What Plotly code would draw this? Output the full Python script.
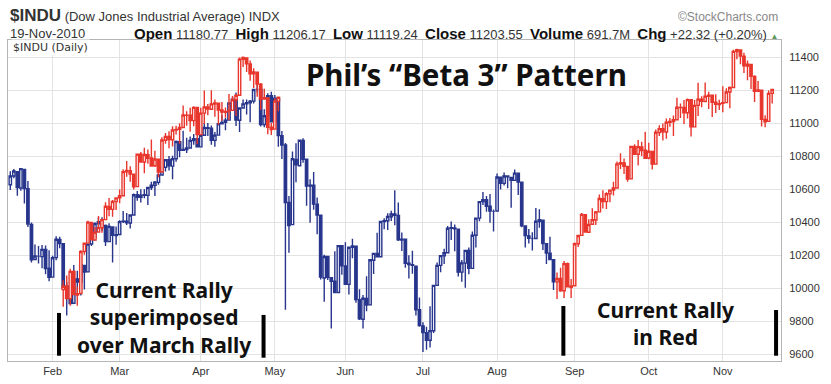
import pandas as pd
import plotly.graph_objects as go

# ---------------- data ----------------
HOLIDAYS = ["2010-01-18", "2010-02-15", "2010-04-02", "2010-05-31",
            "2010-07-05", "2010-09-06"]
DATES = [d.strftime("%Y-%m-%d") for d in
         pd.bdate_range("2010-01-13", "2010-11-19")
         if d.strftime("%Y-%m-%d") not in HOLIDAYS]

OPEN = [
    # Jan
    10627, 10680, 10706, 10608, 10720, 10603, 10387, 10175, 10194, 10192, 10235, 10122,
    # Feb
    10068, 10186, 10296, 10270, 10002, 10013, 9910, 10057, 10036, 10139, 10100, 10269,
    10308, 10391, 10403, 10381, 10283, 10372, 10320,
    # Mar
    10326, 10404, 10406, 10396, 10444, 10567, 10551, 10564, 10563, 10611, 10624, 10642,
    10686, 10733, 10779, 10740, 10785, 10888, 10836, 10841, 10850, 10895, 10907,
    # Apr
    10857, 10927, 10973, 10970, 10896, 10928, 10997, 11005, 11019, 11123, 11144, 11018,
    11092, 11117, 11124, 11134, 11205, 11204, 10992, 11045, 11167,
    # May
    11009, 11150, 10925, 10868, 10520, 10386, 10780, 10742, 10896, 10782, 10620, 10625,
    10510, 10443, 10063, 10193, 10065, 10044, 9975, 10258,
    # Jun
    10136, 10024, 10249, 10255, 9931, 9813, 9939, 9900, 10170, 10212, 10191, 10405,
    10409, 10434, 10450, 10442, 10293, 10297, 10152, 10143, 10134, 9870,
    # Jul
    9773, 9732, 9686, 9743, 10018, 10139, 10197, 10216, 10363, 10366, 10358, 10098,
    10153, 10229, 10121, 10322, 10425, 10525, 10537, 10497, 10466,
    # Aug
    10468, 10673, 10636, 10680, 10671, 10654, 10697, 10643, 10378, 10318, 10302, 10302,
    10405, 10413, 10270, 10213, 10174, 10039, 10060, 9985, 10149, 10007,
    # Sep
    10016, 10270, 10321, 10446, 10340, 10388, 10414, 10463, 10543, 10525, 10572, 10595,
    10608, 10753, 10760, 10738, 10663, 10859, 10812, 10857, 10836,
    # Oct
    10789, 10829, 10752, 10944, 10967, 10947, 11006, 11010, 11021, 11096, 11095, 11063,
    11143, 10978, 11108, 11146, 11132, 11163, 11169, 11127, 11113,
    # Nov
    11121, 11125, 11189, 11216, 11434, 11443, 11406, 11346, 11356, 11283, 11193, 11200,
    11023, 11011, 11181,
]
HIGH = [
    10709, 10723, 10710, 10729, 10720, 10650, 10399, 10265, 10257, 10263, 10260, 10231,
    10198, 10315, 10313, 10270, 10038, 10059, 10142, 10106, 10160, 10140, 10271, 10327,
    10400, 10431, 10430, 10386, 10394, 10372, 10374,
    10412, 10468, 10456, 10447, 10574, 10590, 10600, 10600, 10614, 10646, 10650, 10700,
    10775, 10780, 10802, 10803, 10896, 10889, 10954, 10912, 10920, 10935, 10910,
    10950, 11001, 11001, 10986, 10947, 11000, 11048, 11032, 11123, 11161, 11186, 11094,
    11143, 11144, 11141, 11205, 11258, 11212, 11085, 11182, 11191,
    11171, 11150, 10953, 10880, 10559, 10829, 10878, 10900, 10909, 10782, 10661, 10705,
    10550, 10443, 10204, 10194, 10065, 10224, 10259, 10258,
    10279, 10249, 10301, 10255, 9995, 9960, 10073, 10173, 10214, 10337, 10405, 10424,
    10455, 10470, 10594, 10520, 10338, 10297, 10201, 10228, 10134, 9944,
    9795, 9768, 9891, 10018, 10156, 10199, 10240, 10378, 10405, 10386, 10359, 10172,
    10232, 10247, 10345, 10425, 10525, 10583, 10559, 10572, 10477,
    10696, 10674, 10701, 10680, 10672, 10719, 10698, 10643, 10378, 10359, 10340, 10486,
    10479, 10415, 10272, 10312, 10174, 10096, 10125, 10165, 10157, 10056,
    10277, 10323, 10457, 10446, 10418, 10485, 10469, 10568, 10594, 10582, 10589, 10646,
    10768, 10818, 10786, 10739, 10864, 10873, 10898, 10888, 10948,
    10881, 10829, 10962, 10988, 10999, 11028, 11032, 11047, 11154, 11120, 11140, 11150,
    11143, 11141, 11245, 11164, 11247, 11190, 11169, 11175, 11142,
    11224, 11212, 11222, 11445, 11451, 11443, 11427, 11380, 11356, 11291, 11256, 11201,
    11049, 11198, 11206,
]
LOW = [
    10595, 10666, 10561, 10591, 10514, 10371, 10157, 10175, 10151, 10121, 10085, 10043,
    10068, 10170, 10243, 9998, 9836, 9904, 9910, 9968, 9957, 9993, 10100, 10257,
    10290, 10348, 10348, 10257, 10282, 10157, 10264,
    10326, 10395, 10383, 10363, 10444, 10530, 10520, 10545, 10505, 10596, 10560, 10628,
    10686, 10707, 10713, 10660, 10766, 10794, 10836, 10820, 10850, 10870, 10855,
    10857, 10927, 10922, 10869, 10857, 10928, 10994, 10957, 11019, 11104, 10983, 10947,
    11092, 11053, 11006, 11120, 11186, 10980, 10975, 11044, 11005,
    11009, 10857, 10783, 9870, 10215, 10386, 10642, 10742, 10761, 10500, 10397, 10476,
    10327, 10053, 9919, 10051, 9757, 9974, 9975, 10083,
    10021, 9962, 10182, 9913, 9809, 9757, 9862, 9900, 10087, 10187, 10191, 10358,
    10353, 10408, 10382, 10287, 10226, 10124, 10060, 10088, 9835, 9767,
    9614, 9628, 9642, 9729, 10018, 10098, 10147, 10216, 10293, 10224, 10072, 10040,
    10003, 10086, 10121, 10247, 10406, 10505, 10464, 10397, 10345,
    10468, 10599, 10623, 10606, 10488, 10653, 10565, 10370, 10248, 10272, 10229, 10302,
    10367, 10232, 10147, 10173, 9990, 9936, 9979, 9942, 10009, 9941,
    10016, 10250, 10321, 10339, 10340, 10388, 10383, 10463, 10484, 10480, 10522, 10562,
    10608, 10723, 10692, 10645, 10663, 10810, 10744, 10802, 10788,
    10782, 10720, 10752, 10922, 10896, 10906, 10979, 10922, 11021, 11032, 10996, 11029,
    10920, 10978, 11043, 11096, 11132, 11086, 11037, 11062, 11080,
    11067, 11125, 11090, 11216, 11388, 11357, 11304, 11261, 11207, 11128, 11191, 10980,
    10976, 11011, 11119,
]
CLOSE = [
    10680, 10711, 10610, 10725, 10604, 10389, 10173, 10196, 10194, 10236, 10120, 10067,
    10185, 10297, 10271, 10003, 10013, 9908, 10058, 10038, 10144, 10099, 10268, 10309,
    10392, 10403, 10383, 10283, 10375, 10321, 10325,
    10404, 10406, 10397, 10444, 10567, 10552, 10564, 10567, 10611, 10625, 10643, 10686,
    10734, 10779, 10742, 10785, 10889, 10836, 10841, 10851, 10896, 10907, 10857,
    10927, 10974, 10970, 10897, 10928, 10997, 11005, 11019, 11123, 11145, 11019, 11092,
    11117, 11125, 11134, 11204, 11205, 10992, 11045, 11167, 11009,
    11151, 10926, 10868, 10520, 10380, 10785, 10748, 10897, 10782, 10620, 10625, 10510,
    10444, 10068, 10193, 10067, 10043, 9975, 10259, 10137,
    10025, 10249, 10256, 9932, 9816, 9940, 9899, 10173, 10212, 10191, 10405, 10410,
    10435, 10450, 10443, 10294, 10298, 10152, 10144, 10139, 9870, 9774,
    9732, 9686, 9744, 10018, 10139, 10198, 10216, 10364, 10367, 10360, 10098, 10154,
    10230, 10121, 10322, 10425, 10525, 10537, 10497, 10468, 10466,
    10674, 10636, 10680, 10675, 10654, 10698, 10644, 10379, 10320, 10303, 10302, 10406,
    10415, 10271, 10214, 10174, 10040, 10060, 9985, 10150, 10009, 10015,
    10270, 10320, 10448, 10341, 10387, 10415, 10463, 10544, 10526, 10573, 10595, 10608,
    10754, 10761, 10739, 10662, 10860, 10812, 10858, 10835, 10788,
    10830, 10752, 10945, 10967, 10948, 11006, 11010, 11021, 11097, 11095, 11063, 11143,
    10979, 11108, 11146, 11133, 11164, 11170, 11127, 11114, 11118,
    11125, 11189, 11216, 11435, 11445, 11407, 11347, 11358, 11284, 11193, 11201, 11023,
    11008, 11181, 11204,
]

RALLY_START = "2010-08-25"       # first day of the "current rally" (drawn red)
OVERLAY_SHIFT_DAYS = 140         # rally copied back onto the March rally
OVERLAY_PRICE_OFFSET = -47

MONTH_LABELS = ["Feb", "Mar", "Apr", "May", "Jun", "Jul", "Aug", "Sep", "Oct", "Nov"]
Y_TICKS = [9600, 9800, 10000, 10200, 10400, 10600, 10800, 11000, 11200, 11400]
Y_TICK_LABELS = ["9600", "9800", "10000", "10200", "10400", "10600", "10800",
                 "11000", "11200", "11400"]

HEADER_SYMBOL = "$INDU"
HEADER_NAME = "(Dow Jones Industrial Average) INDX"
HEADER_DATE = "19-Nov-2010"
HEADER_QUOTE = [("Open", "11180.77"), ("High", "11206.17"), ("Low", "11119.24"),
                ("Close", "11203.55"), ("Volume", "691.7M"), ("Chg", "+22.32 (+0.20%)")]

assert len(DATES) == len(OPEN) == len(HIGH) == len(LOW) == len(CLOSE)

# ---------------- figure ----------------
BLUE = "#27358c"
RED = "#e8362c"
split = DATES.index(RALLY_START)
n = len(DATES)

# first trading day of each month -> tick positions
month_first = []
seen = set()
for d in DATES:
    m = d[:7]
    if m not in seen:
        seen.add(m)
        month_first.append(d)
tickvals = month_first[1:]


def candle(x, o, h, l, c, color):
    return go.Candlestick(
        x=x, open=o, high=h, low=l, close=c,
        increasing=dict(line=dict(color=color, width=1.4), fillcolor="white"),
        decreasing=dict(line=dict(color=color, width=1.4), fillcolor=color),
        whiskerwidth=0, showlegend=False, hoverinfo="skip",
    )


fig = go.Figure()
fig.add_trace(candle(DATES[:split], OPEN[:split], HIGH[:split], LOW[:split], CLOSE[:split], BLUE))
fig.add_trace(candle(DATES[split:], OPEN[split:], HIGH[split:], LOW[split:], CLOSE[split:], RED))

ov = slice(split - OVERLAY_SHIFT_DAYS, n - OVERLAY_SHIFT_DAYS)
fig.add_trace(candle(
    DATES[ov],
    [v + OVERLAY_PRICE_OFFSET for v in OPEN[split:]],
    [v + OVERLAY_PRICE_OFFSET for v in HIGH[split:]],
    [v + OVERLAY_PRICE_OFFSET for v in LOW[split:]],
    [v + OVERLAY_PRICE_OFFSET for v in CLOSE[split:]],
    RED))

GRID = "#e3e3e3"
FRAME = "#b5b5b5"
fig.update_layout(
    width=831, height=384,
    margin=dict(l=7, r=50, t=40, b=21),
    paper_bgcolor="white", plot_bgcolor="white",
    font=dict(family="Liberation Sans, Arial, sans-serif", size=11, color="#333"),
    boxgap=0.05,
    xaxis=dict(
        type="category", categoryorder="array", categoryarray=DATES,
        range=[-0.65, n + 1.5],
        tickvals=tickvals, ticktext=MONTH_LABELS,
        showgrid=True, gridcolor=GRID, gridwidth=1,
        showline=True, linecolor=FRAME, linewidth=1, mirror=True,
        ticks="", tickfont=dict(size=11, color="#333"),
        rangeslider=dict(visible=False), fixedrange=True,
    ),
    yaxis=dict(
        side="right", range=[9560, 11504],
        tickvals=Y_TICKS, ticktext=Y_TICK_LABELS,
        showgrid=True, gridcolor=GRID, gridwidth=1,
        showline=True, linecolor=FRAME, linewidth=1, mirror=True,
        ticks="", ticklabelstandoff=5,
        tickfont=dict(size=11, color="#333"), zeroline=False, fixedrange=True,
    ),
)

# vertical black marker bars (data coordinates)
for xv, y0, y1 in [(13.8, 9851, 9592), (71.8, 9839, 9580),
                   (156.8, 9893, 9592), (217.1, 9869, 9592)]:
    fig.add_shape(type="line", xref="x", yref="y", x0=xv, x1=xv, y0=y0, y1=y1,
                  line=dict(color="black", width=4))

TXT = "Noto Sans, sans-serif"
fig.add_annotation(xref="paper", yref="paper", x=0.593, y=0.892,
                   xanchor="center", yanchor="middle",
                   text="<b>Phil’s “Beta 3” Pattern</b>", showarrow=False,
                   font=dict(family=TXT, size=29.5, color="#111"))
fig.add_annotation(xref="paper", yref="paper", x=0.2016, y=0.136,
                   xanchor="center", yanchor="middle",
                   text="<b>Current Rally<br>superimposed<br>over March Rally</b>",
                   showarrow=False, align="center",
                   font=dict(family=TXT, size=21, color="#111"))
fig.add_annotation(xref="paper", yref="paper", x=0.851, y=0.116,
                   xanchor="center", yanchor="middle",
                   text="<b>Current Rally<br>in Red</b>",
                   showarrow=False, align="center",
                   font=dict(family=TXT, size=21, color="#111"))

# header
fig.add_annotation(xref="paper", yref="paper", x=0.0, y=1.0774, xanchor="left", yanchor="middle",
                   text=f"<b><span style='font-size:17px'>{HEADER_SYMBOL}</span></b> {HEADER_NAME}",
                   showarrow=False, font=dict(size=13, color="#333"))
fig.add_annotation(xref="paper", yref="paper", x=0.0, y=1.0217, xanchor="left", yanchor="middle",
                   text=HEADER_DATE, showarrow=False, font=dict(size=13, color="#333"))
quote = "  ".join(f"<b><span style='font-size:15px;color:#111'>{k}</span></b> {v}" for k, v in HEADER_QUOTE)
quote += " <span style='font-size:8px;color:#5a9a5a'>▲</span>"
fig.add_annotation(xref="paper", yref="paper", x=0.9987, y=1.0217, xanchor="right", yanchor="middle",
                   text=quote, showarrow=False, font=dict(size=13, color="#333"))
fig.add_annotation(xref="paper", yref="paper", x=0.9987, y=1.071, xanchor="right", yanchor="middle",
                   text="©StockCharts.com", showarrow=False, font=dict(size=12, color="#888"))
fig.add_annotation(xref="paper", yref="paper", x=0.004, y=0.978, xanchor="left", yanchor="middle",
                   text="$INDU (Daily)", showarrow=False, bgcolor="white",
                   font=dict(family="DejaVu Sans, sans-serif", size=11, color="#333"))

fig.write_html("out.html", config={"displayModeBar": False},
               post_script="document.body.style.margin='0';")
